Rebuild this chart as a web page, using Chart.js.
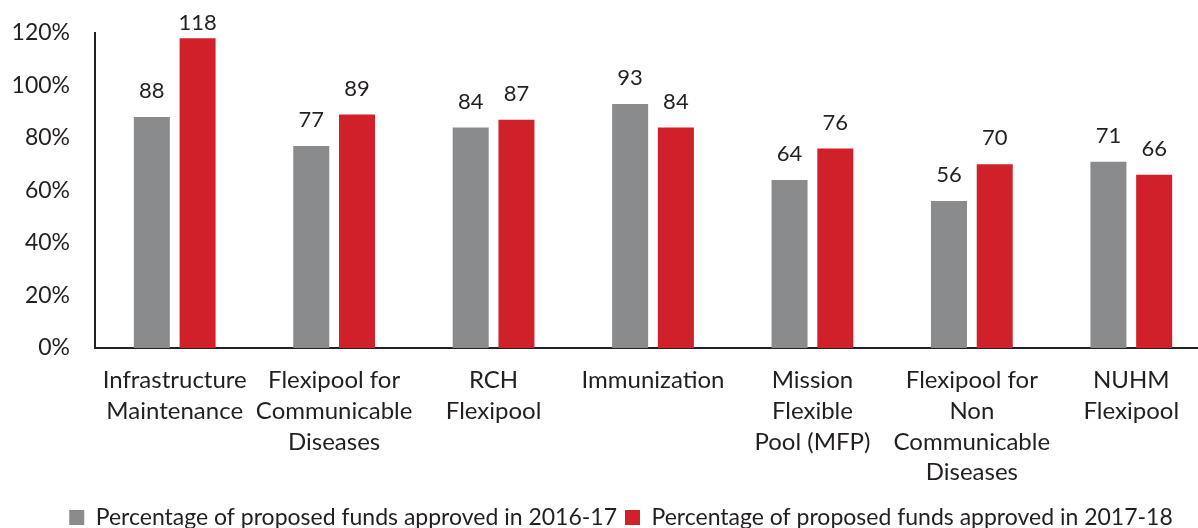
<!DOCTYPE html>
<html>
<head>
<meta charset="utf-8">
<script src="https://cdn.jsdelivr.net/npm/chart.js@4"></script>
<style>
html,body{margin:0;padding:0;background:#fff;}
#wrap{width:1198px;height:528px;position:relative;}
</style>
</head>
<body>
<div id="wrap"><canvas id="c" width="1198" height="528"></canvas></div>
<script>
const categories = [
  ["Infrastructure","Maintenance"],
  ["Flexipool for","Communicable","Diseases"],
  ["RCH","Flexipool"],
  ["Immunization"],
  ["Mission","Flexible","Pool (MFP)"],
  ["Flexipool for","Non","Communicable","Diseases"],
  ["NUHM","Flexipool"]
];
const seriesNames = ["Percentage of proposed funds approved in 2016-17","Percentage of proposed funds approved in 2017-18"];
const values2016 = [88, 77, 84, 93, 64, 56, 71];
const values2017 = [118, 89, 87, 84, 76, 70, 66];
const yTicks = [0, 20, 40, 60, 80, 100, 120];

const FONT = "Lato, 'Open Sans', sans-serif";
const TEXT = "#231F20";
const AXIS_BOTTOM = 348;
const X_AXIS_RIGHT = 1211;

const valueLabels = {
  id: 'valueLabels',
  afterLayout(chart) {
    const x = chart.scales.x;
    if (x) {
      x.right = X_AXIS_RIGHT;
      x.width = x.right - x.left;
      x.configure();
      x._labelItems = null;
      x._gridLineItems = null;
    }
    const lg = chart.legend;
    if (lg) {
      lg.left += 22; lg.right += 22;
      const d = 498 - lg.top;
      lg.top += d; lg.bottom += d;
    }
  },
  afterDatasetsDraw(chart) {
    const ctx = chart.ctx;
    ctx.save();
    ctx.font = "22px " + FONT;
    ctx.fillStyle = TEXT;
    ctx.textAlign = 'center';
    ctx.textBaseline = 'middle';
    chart.data.datasets.forEach((ds, i) => {
      const meta = chart.getDatasetMeta(i);
      meta.data.forEach((bar, j) => {
        ctx.fillText(String(ds.data[j]), bar.x, Math.max(bar.y - 26, 23));
      });
    });
    ctx.restore();
  }
};

new Chart(document.getElementById('c'), {
  type: 'bar',
  data: {
    labels: categories,
    datasets: [
      { label: seriesNames[0], data: values2016, backgroundColor: '#8A8B8C', categoryPercentage: 0.574, barPercentage: 0.787 },
      { label: seriesNames[1], data: values2017, backgroundColor: '#D0202A', categoryPercentage: 0.574, barPercentage: 0.787 }
    ]
  },
  options: {
    responsive: false,
    animation: false,
    layout: { padding: { top: 0, left: 0, right: 0, bottom: 0 } },
    plugins: {
      tooltip: { enabled: false },
      legend: {
        position: 'bottom',
        labels: {
          color: TEXT,
          font: { family: FONT, size: 23 },
          boxWidth: 15, boxHeight: 15, padding: 8
        }
      }
    },
    scales: {
      x: {
        afterFit(axis) {
          const lh = (axis.chart.legend && axis.chart.legend.height) || 41;
          axis.height = 528 - AXIS_BOTTOM - lh;
        },
        grid: { display: false, drawTicks: false },
        border: { display: true, color: '#222', width: 2 },
        ticks: { color: TEXT, font: { family: FONT, size: 24, lineHeight: 1.28 }, padding: 17, maxRotation: 0, autoSkip: false }
      },
      y: {
        min: 0, max: 120,
        afterBuildTicks(axis) { axis.ticks = yTicks.map(v => ({ value: v })); },
        afterFit(axis) { axis.width = 95; },
        grid: { display: false, drawTicks: false },
        border: { display: true, color: '#222', width: 2 },
        ticks: { color: TEXT, font: { family: FONT, size: 23, lineHeight: 0.7 }, padding: 25, callback: v => v + '%' }
      }
    }
  },
  plugins: [valueLabels]
});
</script>
</body>
</html>
